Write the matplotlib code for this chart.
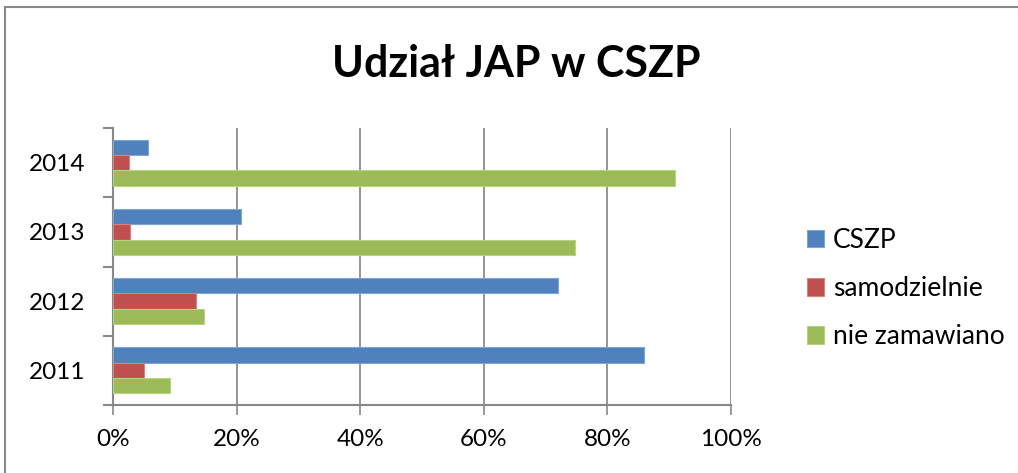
import matplotlib
matplotlib.use("Agg")
import matplotlib.pyplot as plt
import numpy as np
from matplotlib.ticker import FixedLocator, PercentFormatter

years = ["2011", "2012", "2013", "2014"]
series_names = ["CSZP", "samodzielnie", "nie zamawiano"]
cszp = [85.9, 72.0, 20.7, 5.7]
samodzielnie = [5.0, 13.4, 2.8, 2.6]
nie_zamawiano = [9.2, 14.7, 74.8, 91.0]
colors = ["#4F81BD", "#C0504D", "#9BBB59"]
edges = ["#7FA4D6", "#D98380", "#B8D47F"]
x_ticks = [0, 20, 40, 60, 80, 100]

plt.rcParams['font.family'] = ['Lato', 'DejaVu Sans']

fig = plt.figure(figsize=(10.18, 4.73), dpi=100)
ax = fig.add_axes([113/1018, 1-405/473, (731-113)/1018, (405-128)/473])

y = np.arange(len(years))
bw = 1/4.5
for k, (vals, c, ec) in enumerate(zip([cszp, samodzielnie, nie_zamawiano], colors, edges)):
    ax.barh(y + (1 - k) * bw, vals, height=bw, color=c, edgecolor=ec, linewidth=0.8,
            label=series_names[k], zorder=3)

ax.set_xlim(0, 100)
ax.set_ylim(-0.5, len(years) - 0.5)
ax.set_yticks(y)
ax.set_yticklabels(years, fontsize=17.5)
ax.yaxis.set_minor_locator(FixedLocator(np.arange(-0.5, len(years), 1.0)))
ax.tick_params(axis='y', which='major', length=0, pad=20)
ax.tick_params(axis='y', which='minor', length=7, width=1.5, color='#888888')
ax.set_xticks(x_ticks)
ax.xaxis.set_major_formatter(PercentFormatter(decimals=0))
ax.tick_params(axis='x', length=7, width=1.2, color='#888888', labelsize=17.5, pad=10)
ax.grid(axis='x', color='#8c8c8c', linewidth=1.3, zorder=0)
for s in ['top', 'right']:
    ax.spines[s].set_visible(False)
for s in ['left', 'bottom']:
    ax.spines[s].set_color('#888888')
    ax.spines[s].set_linewidth(1.5)

fig.text(516/1018, 1-64/473, "Udział JAP w CSZP", ha='center', va='center',
         fontsize=31, fontweight='bold')

handles, labels = ax.get_legend_handles_labels()
fig.legend(handles, labels, loc='upper left', bbox_to_anchor=(783/1018, 1-204/473),
           frameon=False, fontsize=19, handlelength=0.65, handleheight=0.65,
           handletextpad=0.35, labelspacing=0.88)

# outer chart border (top and left visible)
fig.add_artist(plt.Line2D([5/1018, 5/1018], [0, 1-7/473], transform=fig.transFigure,
                          color='#888888', linewidth=1.5))
fig.add_artist(plt.Line2D([5/1018, 1], [1-7/473, 1-7/473], transform=fig.transFigure,
                          color='#888888', linewidth=1.5))

fig.savefig("out.png", dpi=100)
